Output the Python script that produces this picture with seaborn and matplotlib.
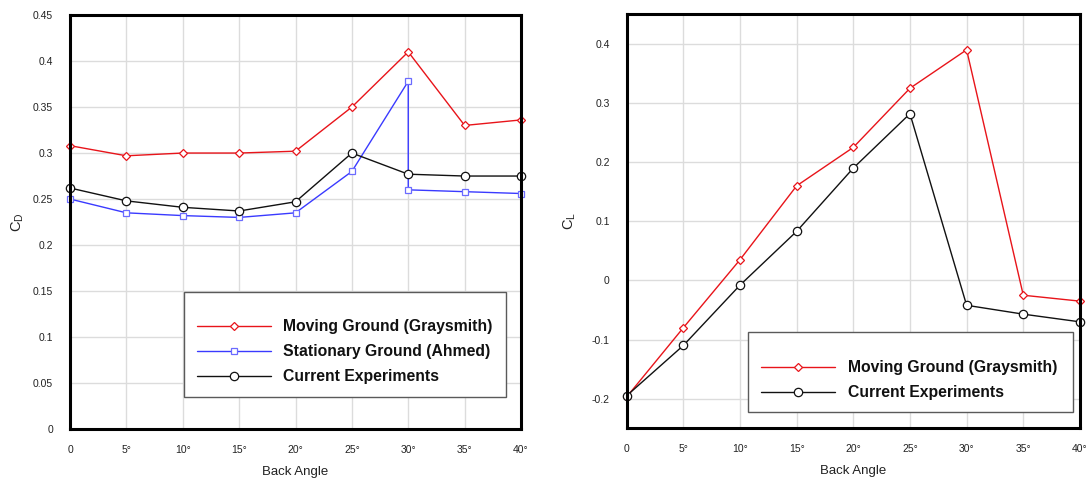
import matplotlib
matplotlib.use("Agg")
import matplotlib.pyplot as plt
import seaborn as sns
from matplotlib.patches import Rectangle
from matplotlib.lines import Line2D

# ---- data -------------------------------------------------------------
angles = [0, 5, 10, 15, 20, 25, 30, 35, 40]
angle_labels = ["0", "5°", "10°", "15°", "20°", "25°", "30°", "35°", "40°"]

# drag coefficient
cd_moving = [0.308, 0.297, 0.300, 0.300, 0.302, 0.350, 0.410, 0.330, 0.336]
# Ahmed's stationary-ground data holds two readings at 30° (before/after the drag crisis)
ahmed_angles = [0, 5, 10, 15, 20, 25, 30, 30, 35, 40]
cd_stationary = [0.250, 0.235, 0.232, 0.230, 0.235, 0.280, 0.378, 0.260, 0.258, 0.256]
cd_current = [0.262, 0.248, 0.241, 0.237, 0.247, 0.300, 0.277, 0.275, 0.275]

# lift coefficient
cl_moving = [-0.197, -0.080, 0.035, 0.160, 0.225, 0.325, 0.390, -0.025, -0.035]
cl_current = [-0.195, -0.110, -0.008, 0.083, 0.190, 0.282, -0.042, -0.057, -0.070]

cd_ticks = [0, 0.05, 0.1, 0.15, 0.2, 0.25, 0.3, 0.35, 0.4, 0.45]
cd_tick_labels = ["0", "0.05", "0.1", "0.15", "0.2", "0.25", "0.3", "0.35", "0.4", "0.45"]
cl_ticks = [-0.2, -0.1, 0, 0.1, 0.2, 0.3, 0.4]
cl_tick_labels = ["-0.2", "-0.1", "0", "0.1", "0.2", "0.3", "0.4"]

series_labels = ["Moving Ground (Graysmith)", "Stationary Ground (Ahmed)", "Current Experiments"]

# ---- styling ----------------------------------------------------------
sns.set_theme(style="white")
plt.rcParams["font.family"] = ["Liberation Sans", "DejaVu Sans"]
plt.rcParams["mathtext.default"] = "regular"

RED = "#e8141a"
BLUE = "#3a3aff"
BLACK = "#111111"

styles = {
    "moving": dict(color=RED, marker="D", markersize=4.2, markerfacecolor="white",
                   markeredgecolor=RED, markeredgewidth=0.9),
    "stationary": dict(color=BLUE, marker="s", markersize=4.3, markerfacecolor="white",
                       markeredgecolor="#6b6bff", markeredgewidth=0.9),
    "current": dict(color=BLACK, marker="o", markersize=6.0, markerfacecolor="white",
                    markeredgecolor=BLACK, markeredgewidth=0.9),
}

fig = plt.figure(figsize=(10.87, 4.78), dpi=100)
ax_cd = fig.add_axes([0.0644, 0.1025, 0.4149, 0.866])
ax_cl = fig.add_axes([0.5765, 0.1040, 0.4170, 0.866])


def draw_series(ax, x, y, key):
    sns.lineplot(x=x, y=y, ax=ax, estimator=None, sort=False, linewidth=1.0,
                 clip_on=False, zorder=3, **styles[key])


def style_axes(ax, ticks, tick_labels, ylim, ylabel):
    ax.set_xlim(0, 40)
    ax.set_ylim(*ylim)
    ax.set_xticks(angles)
    ax.set_xticklabels(angle_labels)
    ax.set_yticks(ticks)
    ax.set_yticklabels(tick_labels)
    ax.grid(True, color="#dcdcdc", linewidth=1.0)
    ax.set_axisbelow(True)
    for sp in ax.spines.values():
        sp.set_visible(True)
        sp.set_color("black")
        sp.set_linewidth(2.2)
        sp.set_zorder(4)
    ax.tick_params(axis="both", which="major", direction="inout", length=9.5, width=2.0,
                   color="black", labelsize=7.5, labelcolor="#222222")
    ax.tick_params(axis="x", pad=6.5)
    ax.tick_params(axis="y", pad=7.5)
    ax.set_xlabel("Back Angle", fontsize=9.5, color="#222222")
    ax.xaxis.set_label_coords(0.5, -0.089)
    ax.set_ylabel(ylabel, fontsize=10.5, color="#222222")


def add_legend(ax, keys, box, anchor):
    rect = Rectangle((box[0], box[1]), box[2], box[3], transform=ax.transAxes,
                     facecolor="white", edgecolor="#5a5a5a", linewidth=1.0, zorder=5)
    ax.add_patch(rect)
    handles = [Line2D([], [], linewidth=1.0, **styles[k]) for k in keys]
    labels = [series_labels[["moving", "stationary", "current"].index(k)] for k in keys]
    leg = ax.legend(handles, labels, loc="upper left", bbox_to_anchor=anchor,
                    frameon=False, borderpad=0, borderaxespad=0,
                    handlelength=4.7, handletextpad=0.8, labelspacing=0.63,
                    prop={"weight": "bold", "size": 11.3})
    leg.set_zorder(6)
    for t in leg.get_texts():
        t.set_color("#111111")


# ---- drag coefficient panel --------------------------------------------
draw_series(ax_cd, angles, cd_moving, "moving")
draw_series(ax_cd, ahmed_angles, cd_stationary, "stationary")
draw_series(ax_cd, angles, cd_current, "current")
style_axes(ax_cd, cd_ticks, cd_tick_labels, (0, 0.45), "C$_D$")
ax_cd.yaxis.set_label_coords(-0.097, 0.5)
add_legend(ax_cd, ["moving", "stationary", "current"],
           (0.252, 0.078, 0.715, 0.253), (0.2816, 0.265))

# ---- lift coefficient panel --------------------------------------------
draw_series(ax_cl, angles, cl_moving, "moving")
draw_series(ax_cl, angles, cl_current, "current")
style_axes(ax_cl, cl_ticks, cl_tick_labels, (-0.25, 0.45), "C$_L$")
ax_cl.yaxis.set_label_coords(-0.107, 0.5)
add_legend(ax_cl, ["moving", "current"],
           (0.268, 0.039, 0.717, 0.194), (0.297, 0.1645))

fig.savefig("out.png", dpi=100)
